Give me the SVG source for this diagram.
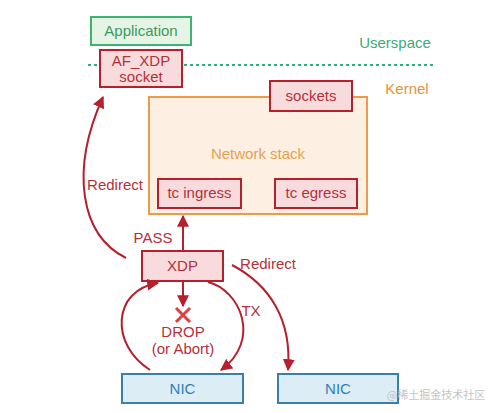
<svg xmlns="http://www.w3.org/2000/svg" width="499" height="413" viewBox="0 0 499 413">
<defs>
<marker id="ah" viewBox="0 0 10 10" refX="9" refY="5" markerWidth="6" markerHeight="6" orient="auto" markerUnits="strokeWidth">
<path d="M0,0 L10,5 L0,10 z" fill="#B5202C"/>
</marker>
</defs>
<style>
text{font-family:"Liberation Sans",Arial,sans-serif;font-size:15px;text-anchor:middle}
.red rect{fill:#F8DCDD;stroke:#B5202C;stroke-width:2}
.red text,.lbl{fill:#B5303A}
.con path{fill:none;stroke:#B5202C;stroke-width:2}
</style>
<rect width="499" height="413" fill="#fff"/>
<g id="network-stack">
<rect x="149" y="97" width="218" height="117" fill="#FDF0E3" stroke="#EE9A4A" stroke-width="2"/>
<text x="258" y="159" fill="#E8A050">Network stack</text>
</g>
<g id="userspace-line">
<line x1="88" y1="65" x2="436" y2="65" stroke="#2DB07A" stroke-width="2" stroke-dasharray="3,3"/>
<text x="395" y="48" fill="#3DAA7A">Userspace</text>
<text x="407" y="94" fill="#E8903A">Kernel</text>
</g>
<g id="application">
<rect x="91" y="17" width="100" height="28" fill="#E6F4E6" stroke="#3CB371" stroke-width="2"/>
<text x="141" y="36" fill="#3A9A60">Application</text>
</g>
<g id="afxdp" class="red">
<rect x="100" y="50" width="82" height="37"/>
<text x="141" y="66">AF_XDP</text>
<text x="141" y="82">socket</text>
</g>
<g id="sockets" class="red">
<rect x="270" y="81" width="82" height="30"/>
<text x="311" y="101">sockets</text>
</g>
<g id="tc-ingress" class="red">
<rect x="158" y="179" width="83" height="29"/>
<text x="199.5" y="198">tc ingress</text>
</g>
<g id="tc-egress" class="red">
<rect x="275" y="179" width="82" height="29"/>
<text x="316" y="198">tc egress</text>
</g>
<g id="xdp" class="red">
<rect x="142" y="251" width="81" height="30"/>
<text x="182.5" y="271">XDP</text>
</g>
<g id="nic1">
<rect x="122" y="374" width="121" height="29" fill="#DCEDF6" stroke="#3A7FA8" stroke-width="2"/>
<text x="182.5" y="394" fill="#2F7FB5">NIC</text>
</g>
<g id="nic2">
<rect x="278" y="374" width="120" height="29" fill="#DCEDF6" stroke="#3A7FA8" stroke-width="2"/>
<text x="338" y="394" fill="#2F7FB5">NIC</text>
</g>
<g id="connectors" class="con">
<path d="M183,251 L183,216" marker-end="url(#ah)"/>
<path d="M126,258 C80,235 70,170 103,97" marker-end="url(#ah)"/>
<path d="M232,265 C270,285 292,320 288,370" marker-end="url(#ah)"/>
<path d="M208,282 C240,290 262,340 221,370" marker-end="url(#ah)"/>
<path d="M150,370 C110,345 112,290 158,283" marker-end="url(#ah)"/>
<path d="M183,281 L183,306" marker-end="url(#ah)"/>
<path d="M176,308 L190,322 M190,308 L176,322" style="stroke:#E04040;stroke-width:3"/>
</g>
<g id="labels">
<text class="lbl" x="153" y="243">PASS</text>
<text class="lbl" x="115" y="190">Redirect</text>
<text class="lbl" x="268" y="269">Redirect</text>
<text class="lbl" x="251" y="316">TX</text>
<text class="lbl" x="183" y="337">DROP</text>
<text class="lbl" x="183" y="354">(or Abort)</text>
</g>
<text x="436" y="399" style="font-family:'Noto Sans CJK SC',sans-serif;font-size:11px;fill:#C4C4C4">@稀土掘金技术社区</text>
</svg>
